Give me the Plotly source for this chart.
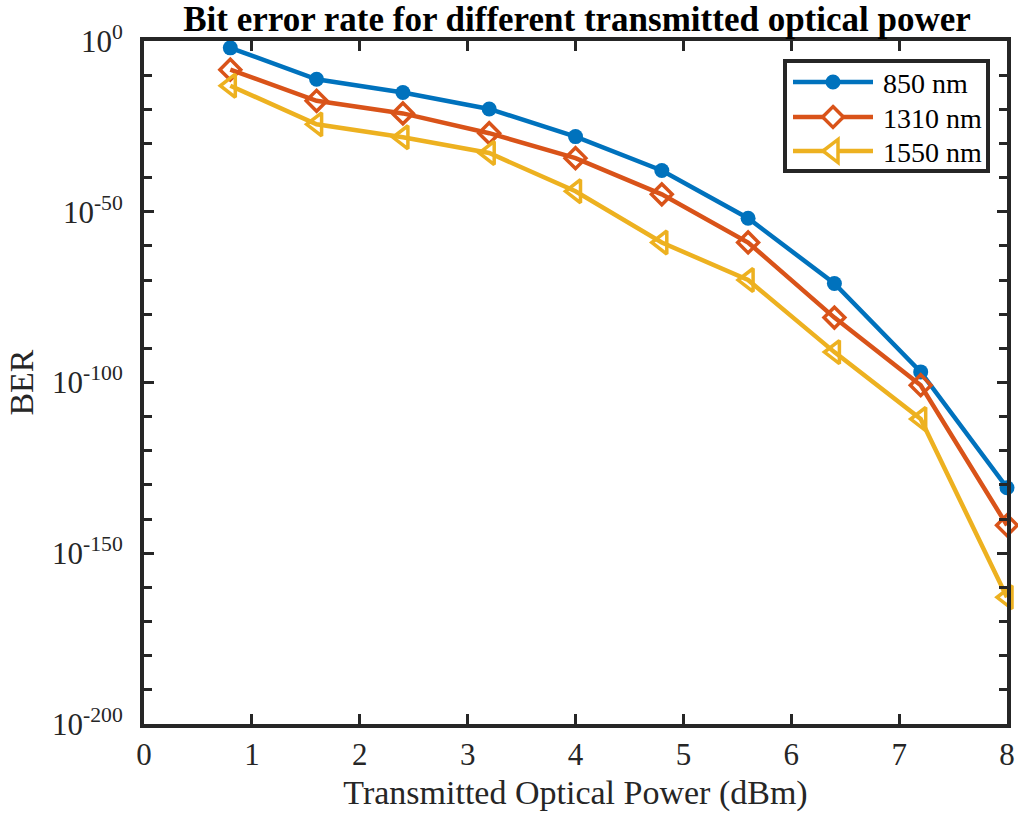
import plotly.graph_objects as go

# Transmitted optical power (dBm)
power_dbm = [0.8, 1.6, 2.4, 3.2, 4.0, 4.8, 5.6, 6.4, 7.2, 8.0]

# BER exponents (log10 of BER) per wavelength
ber_exp_850 = [-2.0, -11.2, -15.1, -19.9, -28.0, -37.9, -51.9, -71.0, -96.9, -130.8]
ber_exp_1310 = [-8.4, -17.5, -21.2, -27.0, -34.3, -44.9, -59.0, -81.0, -100.8, -141.8]
ber_exp_1550 = [-13.1, -24.4, -28.2, -32.8, -44.0, -59.0, -70.0, -91.1, -110.7, -162.9]

series_names = ["850 nm", "1310 nm", "1550 nm"]

# y ticks: labelled every 50 decades, minor ticks every 10 decades
y_major_exps = [-200, -150, -100, -50, 0]
y_major_text = [f"10<sup>{e}</sup>" for e in y_major_exps]
y_minor_exps = [e for e in range(-200, 1, 10) if e % 50 != 0]
x_tick_vals = [0, 1, 2, 3, 4, 5, 6, 7, 8]

FONT = "Liberation Serif, Times New Roman, serif"
AXIS_COLOR = "#262626"
W, H = 1018, 819
ML, MR, MT, MB = 144, 11, 41, 95

styles = [
    dict(color="#0072BD", symbol="circle", size=15, lw=0),
    dict(color="#D95319", symbol="diamond-open", size=16, lw=3.5),
    dict(color="#EDB120", symbol="triangle-left-open", size=20, lw=3.5),
]

fig = go.Figure()
for name, exps, st in zip(series_names, [ber_exp_850, ber_exp_1310, ber_exp_1550], styles):
    fig.add_trace(go.Scatter(
        x=power_dbm,
        y=[10.0 ** e for e in exps],
        mode="lines+markers",
        name=name,
        showlegend=False,
        cliponaxis=False,
        line=dict(color=st["color"], width=4.5),
        marker=dict(symbol=st["symbol"], size=st["size"], color=st["color"],
                    line=dict(color=st["color"], width=st["lw"])),
    ))


# --- boxed legend in the upper-right corner (pixel layout -> paper coords) ---
def px_x(p):
    return (p - ML) / (W - ML - MR)


def px_y(p):
    return 1 - (p - MT) / (H - MT - MB)


shapes = [dict(type="rect", xref="paper", yref="paper",
               x0=px_x(785), x1=px_x(988), y0=px_y(61), y1=px_y(171),
               line=dict(color=AXIS_COLOR, width=4), fillcolor="white", layer="above")]
annotations = []
row_y = [82, 117, 151]
line_x0, line_x1, mark_x, text_x = 793, 873, 833, 881
for name, st, ry in zip(series_names, styles, row_y):
    col = st["color"]
    shapes.append(dict(type="line", xref="paper", yref="paper",
                       x0=px_x(line_x0), x1=px_x(line_x1), y0=px_y(ry), y1=px_y(ry),
                       line=dict(color=col, width=4.5), layer="above"))
    r = st["size"] / 2
    if st["symbol"] == "circle":
        shapes.append(dict(type="circle", xref="paper", yref="paper",
                           x0=px_x(mark_x - r), x1=px_x(mark_x + r),
                           y0=px_y(ry + r), y1=px_y(ry - r),
                           line=dict(color=col, width=0), fillcolor=col, layer="above"))
    elif st["symbol"] == "diamond-open":
        rd = r * 1.3
        pts = [(mark_x, ry - rd), (mark_x + rd, ry), (mark_x, ry + rd), (mark_x - rd, ry)]
        path = "M" + " L".join(f"{px_x(a):.5f},{px_y(b):.5f}" for a, b in pts) + " Z"
        shapes.append(dict(type="path", xref="paper", yref="paper", path=path,
                           line=dict(color=col, width=st["lw"]), fillcolor="white", layer="above"))
    else:
        rt = r * 2 / 3 ** 0.5
        r2 = r / 2
        pts = [(mark_x - r, ry), (mark_x + r2, ry - rt), (mark_x + r2, ry + rt)]
        path = "M" + " L".join(f"{px_x(a):.5f},{px_y(b):.5f}" for a, b in pts) + " Z"
        shapes.append(dict(type="path", xref="paper", yref="paper", path=path,
                           line=dict(color=col, width=st["lw"]), fillcolor="white", layer="above"))
    annotations.append(dict(text=name, xref="paper", yref="paper",
                            x=px_x(text_x), y=px_y(ry + 1), xanchor="left", yanchor="middle",
                            showarrow=False, font=dict(family=FONT, size=28, color="black")))

fig.update_layout(
    width=W,
    height=H,
    margin=dict(l=ML, r=MR, t=MT, b=MB),
    paper_bgcolor="white",
    plot_bgcolor="white",
    font=dict(family=FONT, color=AXIS_COLOR),
    showlegend=False,
    shapes=shapes,
    annotations=annotations,
    title=dict(
        text="<b>Bit error rate for different transmitted optical power</b>",
        x=577 / W, xanchor="center",
        y=1 - 19 / H, yanchor="middle",
        font=dict(family=FONT, size=35, color="black"),
    ),
    xaxis=dict(
        range=[0, 8],
        tickvals=x_tick_vals,
        ticks="inside", ticklen=10, tickwidth=3, tickcolor=AXIS_COLOR,
        showline=True, linewidth=4, linecolor=AXIS_COLOR, mirror="ticks",
        showgrid=False, zeroline=False, automargin=False,
        ticklabeloverflow="allow",
        tickfont=dict(size=31, color=AXIS_COLOR),
        title=dict(text="Transmitted Optical Power (dBm)",
                   font=dict(size=34, color=AXIS_COLOR), standoff=10),
    ),
    yaxis=dict(
        type="log",
        range=[-200, 0],
        tickvals=[10.0 ** e for e in y_major_exps],
        ticktext=y_major_text,
        ticks="inside", ticklen=10, tickwidth=3, tickcolor=AXIS_COLOR,
        minor=dict(tickvals=[10.0 ** e for e in y_minor_exps], ticks="inside",
                   ticklen=8, tickwidth=3, tickcolor=AXIS_COLOR, showgrid=False),
        showline=True, linewidth=4, linecolor=AXIS_COLOR, mirror="ticks",
        showgrid=False, zeroline=False, automargin=False,
        ticklabelstandoff=11,
        tickfont=dict(size=31, color=AXIS_COLOR),
        title=dict(text="BER", font=dict(size=34, color=AXIS_COLOR), standoff=9),
    ),
)

fig.write_html("out.html")
